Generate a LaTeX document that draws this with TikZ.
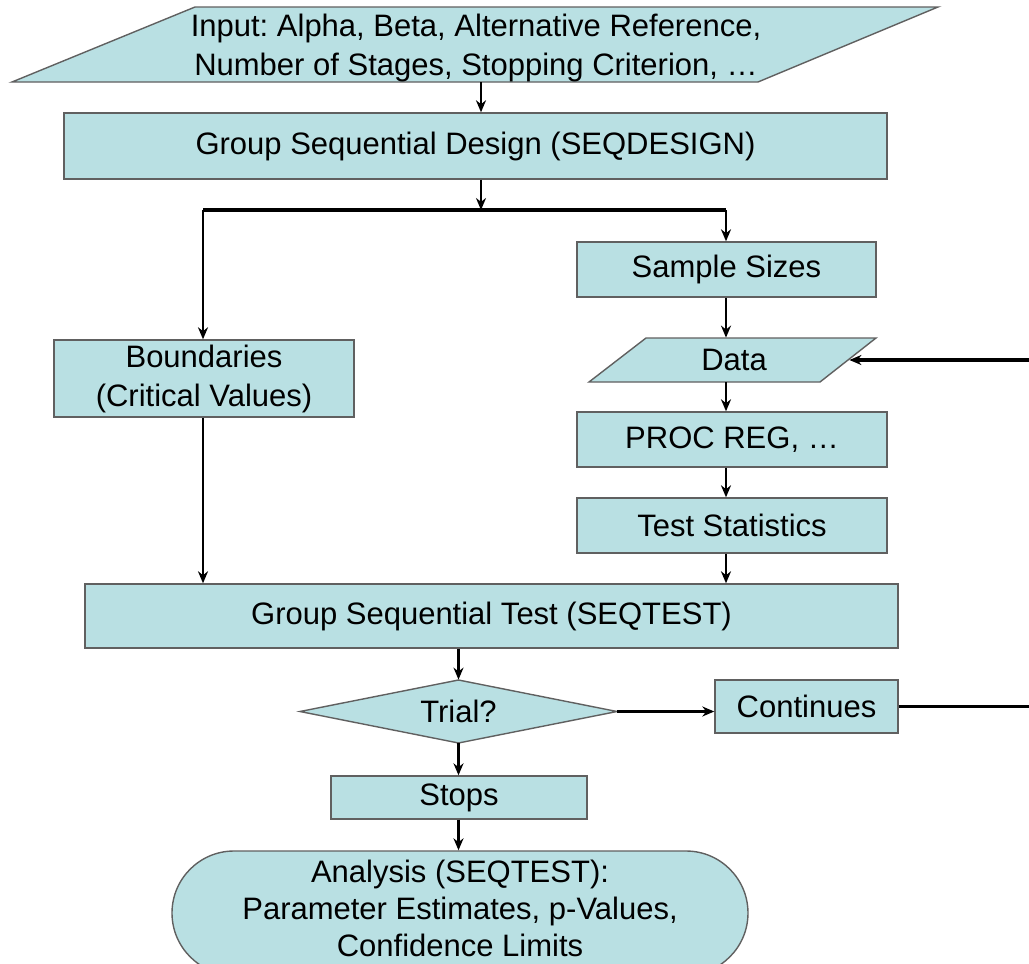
\documentclass[tikz,border=0pt]{standalone}
\usepackage{fontspec}
\setmainfont{Liberation Sans}
\usetikzlibrary{arrows.meta}
\definecolor{boxfill}{HTML}{B9E0E3}
\definecolor{bord}{HTML}{606060}
\frenchspacing
\newcommand{\fsz}{\fontsize{15.5}{19.5}\selectfont}
\newcommand{\fsztight}{\fontsize{15.5}{18.5}\selectfont}
\tikzset{
  box/.style={draw=bord, fill=boxfill, line width=0.7pt, inner sep=0pt, align=center, font=\fsz},
  lbl/.style={inner sep=0pt, align=center, font=\fsz},
  shp/.style={draw=bord, fill=boxfill, line width=0.7pt},
  arr/.style={-{Stealth[length=6pt,width=5pt]}, line width=1.2pt},
  ln/.style={line width=1.6pt},
}
\begin{document}
\begin{tikzpicture}[x=0.5pt,y=-0.5pt]
\useasboundingbox (0,0) rectangle (1029,964);
% shapes drawn directly
\draw[shp] (195,7) -- (938,7) -- (758,82) -- (12,82) -- cycle;
\draw[shp] (646,338) -- (876,338) -- (820,382) -- (589,382) -- cycle;
\draw[shp] (300,711.5) -- (458.5,680) -- (617,711.5) -- (458.5,743) -- cycle;
% nodes
\node[lbl, minimum width=373pt, minimum height=34.5pt] (inp) at (476,47.5)
  {Input: Alpha, Beta, Alternative Reference,\\Number of Stages, Stopping Criterion, \dots};
\node[box, minimum width=411.5pt, minimum height=33pt] (gsd) at (475.5,146)
  {Group Sequential Design (SEQDESIGN)};
\node[box, minimum width=149.5pt, minimum height=27.5pt] (samp) at (726.5,269.5)
  {Sample Sizes};
\node[box, minimum width=150pt, minimum height=38.5pt] (bound) at (204,378.5)
  {Boundaries\\(Critical Values)};
\node[lbl, minimum width=115pt, minimum height=22pt] (data) at (734,360) {Data};
\node[box, minimum width=155pt, minimum height=27.5pt] (proc) at (732,439.5)
  {PROC REG, \dots};
\node[box, minimum width=155pt, minimum height=27.5pt] (tstat) at (732,525.5)
  {Test Statistics};
\node[box, minimum width=406.5pt, minimum height=32pt] (gst) at (491.5,616)
  {Group Sequential Test (SEQTEST)};
\node[lbl, minimum width=158.5pt, minimum height=31.5pt] (trial) at (458.5,711.5) {Trial?};
\node[box, minimum width=91.5pt, minimum height=26.5pt] (cont) at (806.5,706.5)
  {Continues};
\node[box, minimum width=128pt, minimum height=21.5pt] (stops) at (459,797.5)
  {Stops};
\node[box, font=\fsztight, minimum width=288pt, minimum height=62pt, rounded corners=31pt] (anal) at (460,913)
  {};
\node[lbl, font=\fsztight] (analtxt) at (460,908)
  {Analysis (SEQTEST):\\Parameter Estimates, p-Values,\\Confidence Limits};
% junction coordinates
\coordinate (jc) at (481,210);
\coordinate (jl) at (203,210);
\coordinate (jr) at (726,210);
\coordinate (rc) at (1036,500);
% connectors
\draw[arr] (inp.south -| jc) -- (gsd.north -| jc);
\draw[arr] (gsd.south -| jc) -- (jc);
\draw[ln] (jl) -- (jr);
\draw[arr] (jl) -- (bound.north -| jl);
\draw[arr] (jr) -- (samp.north -| jr);
\draw[arr] (samp.south -| jr) -- (data.north -| jr);
\draw[arr] (data.south -| jr) -- (proc.north -| jr);
\draw[arr] (proc.south -| jr) -- (tstat.north -| jr);
\draw[arr] (tstat.south -| jr) -- (gst.north -| jr);
\draw[arr] (bound.south -| jl) -- (gst.north -| jl);
\draw[arr] (gst.south -| trial.north) -- (trial.north);
\draw[arr] (trial.east) -- (trial.east -| cont.west);
\draw[arr] (trial.south) -- (stops.north -| trial.south);
\draw[arr] (stops.south -| trial.south) -- (anal.north -| trial.south);
\draw[ln, -{Stealth[length=6pt,width=5pt]}] (cont.east) -- (cont.east -| rc) |- (data.east);
\end{tikzpicture}
\end{document}
